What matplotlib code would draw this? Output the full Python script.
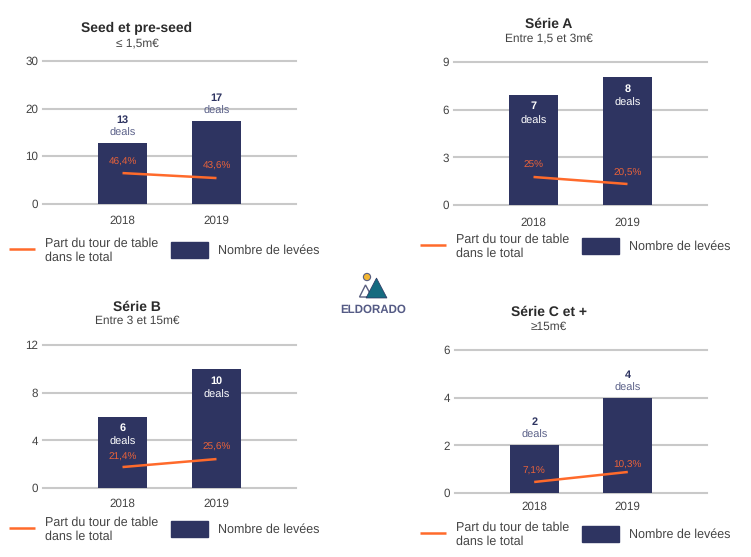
import matplotlib
matplotlib.use("Agg")
import matplotlib.pyplot as plt
from matplotlib.patches import Rectangle, Polygon, Circle

plt.rcParams['font.family'] = ['Liberation Sans', 'DejaVu Sans']
# the squeezed digits come from hinting at small sizes
plt.rcParams['text.hinting'] = 'none'

W, H = 751, 557
NAVY = '#2e3461'
ORANGE = '#ff6a2b'
GRID = '#c9c9c9'
TEXT = '#444444'

# data
years = ['2018', '2019']
titles = ['Seed et pre-seed', 'Série A', 'Série B', 'Série C et +']
subtitles = ['≤ 1,5m€', 'Entre 1,5 et 3m€', 'Entre 3 et 15m€', '≥15m€']
deals = [[13, 17], [7, 8], [6, 10], [2, 4]]
bar_heights = [[12.8, 17.3], [6.95, 8.05], [6, 10], [2, 4]]
share = [[46.4, 43.6], [25, 20.5], [21.4, 25.6], [7.1, 10.3]]
share_labels = [['46,4%', '43,6%'], ['25%', '20,5%'], ['21,4%', '25,6%'], ['7,1%', '10,3%']]
y_ticks = [[0, 10, 20, 30], [0, 3, 6, 9], [0, 4, 8, 12], [0, 2, 4, 6]]
legend_line = 'Part du tour de table\ndans le total'
legend_bar = 'Nombre de levées'

# share of total has its own hidden axis in each panel
share_lims = [(29.3, 109.4), (7, 98.9), (10.4, 85.5), (3.58, 49.3)]

# layout in pixels: left, right, top gridline, baseline, title y, subtitle y, legend y, legend x shift
panels = [
    (43, 296, 61, 203.5, 28, 43, 250, 0),
    (454, 707, 62, 205, 24, 38, 246, 411),
    (43, 296, 345, 488, 307, 321, 529, 0),
    (455, 707, 350, 493, 312, 327, 534, 411),
]
deal_inside = [False, True, True, False]
share_offset = [[11, 12], [12, 11], [10, 12], [11, 7]]
year_pad = [8.5, 8.5, 7.5, 6]

fig = plt.figure(figsize=(W / 100, H / 100), dpi=100)

# overlay in pixel coordinates for titles, legends and logo
over = fig.add_axes([0, 0, 1, 1], zorder=5)
over.set_xlim(0, W)
over.set_ylim(H, 0)
over.axis('off')

for i, (left, right, top, base, title_y, sub_y, leg_y, off) in enumerate(panels):
    ax = fig.add_axes([left / W, 1 - base / H, (right - left) / W, (base - top) / H])
    x = [0, 1]
    ax.bar(x, bar_heights[i], width=0.52, color=NAVY, zorder=3)
    ax.set_xlim(-0.846, 1.846)
    ax.set_ylim(y_ticks[i][0], y_ticks[i][-1])
    ax.set_yticks(y_ticks[i])
    ax.set_xticks(x, years)
    ax.grid(axis='y', color=GRID, lw=1.5, zorder=1)
    ax.set_axisbelow(True)
    for s in ax.spines.values():
        s.set_visible(False)
    ax.tick_params(length=0, labelsize=8.4, labelcolor=TEXT)
    ax.tick_params(axis='y', pad=3.5)
    ax.tick_params(axis='x', pad=year_pad[i])
    # keep the top and bottom gridlines whole
    for g in ax.get_ygridlines():
        g.set_clip_on(False)

    ax2 = ax.twinx()
    ax2.set_ylim(*share_lims[i])
    ax2.axis('off')
    ax2.plot(x, share[i], color=ORANGE, lw=1.8, zorder=6, solid_capstyle='butt')
    for j in x:
        ax2.annotate(share_labels[i][j], (j, share[i][j]), xytext=(0, share_offset[i][j] * 0.72),
                     textcoords='offset points', ha='center', va='center',
                     fontsize=7.2, color='#e8623a', zorder=7)
        if deal_inside[i]:
            num_off, word_off, num_col, word_col = -12, -26, 'white', 'white'
        else:
            num_off, word_off, num_col, word_col = 23, 10, NAVY, '#5a6088'
        ax.annotate(str(deals[i][j]), (j, bar_heights[i][j]), xytext=(0, num_off * 0.72),
                    textcoords='offset points', ha='center', va='center',
                    fontsize=7.8, fontweight='bold', color=num_col, zorder=7)
        ax.annotate('deals', (j, bar_heights[i][j]), xytext=(0, word_off * 0.72),
                    textcoords='offset points', ha='center', va='center',
                    fontsize=7.9, color=word_col, zorder=7)

    # titles
    cx = left + 94 if left < 100 else 549
    over.text(cx, title_y, titles[i], ha='center', va='center', fontsize=10, fontweight='bold', color='#2b2b2b')
    over.text(cx, sub_y, subtitles[i], ha='center', va='center', fontsize=8.6, color=TEXT)

    # legend, drawn by hand because the two keys have different widths
    over.plot([off + 8.5, off + 34.5], [leg_y - 1, leg_y - 1], color=ORANGE, lw=1.8, solid_capstyle='butt')
    over.text(off + 45, leg_y + 0.5, legend_line, ha='left', va='center', fontsize=9,
              color=TEXT, linespacing=1.28)
    over.add_patch(Rectangle((off + 171, leg_y - 8), 37, 16, color=NAVY))
    over.text(off + 218, leg_y + 1, legend_bar, ha='left', va='center', fontsize=9, color=TEXT)

# Eldorado logo
over.add_patch(Circle((367, 277), 3.6, facecolor='#f2b632', edgecolor='#5a5f80', lw=0.8))
over.add_patch(Polygon([[359.5, 297], [365.5, 285], [372, 297]], closed=True, facecolor='white', edgecolor='#5a5f80', lw=1))
over.add_patch(Polygon([[366, 298], [376.5, 278], [387, 298]], closed=True, facecolor='#166b80', edgecolor='#2e3461', lw=0.5))
over.text(373, 309.5, 'ELDORADO', ha='center', va='center', fontsize=8.3, fontweight='bold', color='#555b85')

fig.savefig('out.png', dpi=100)
